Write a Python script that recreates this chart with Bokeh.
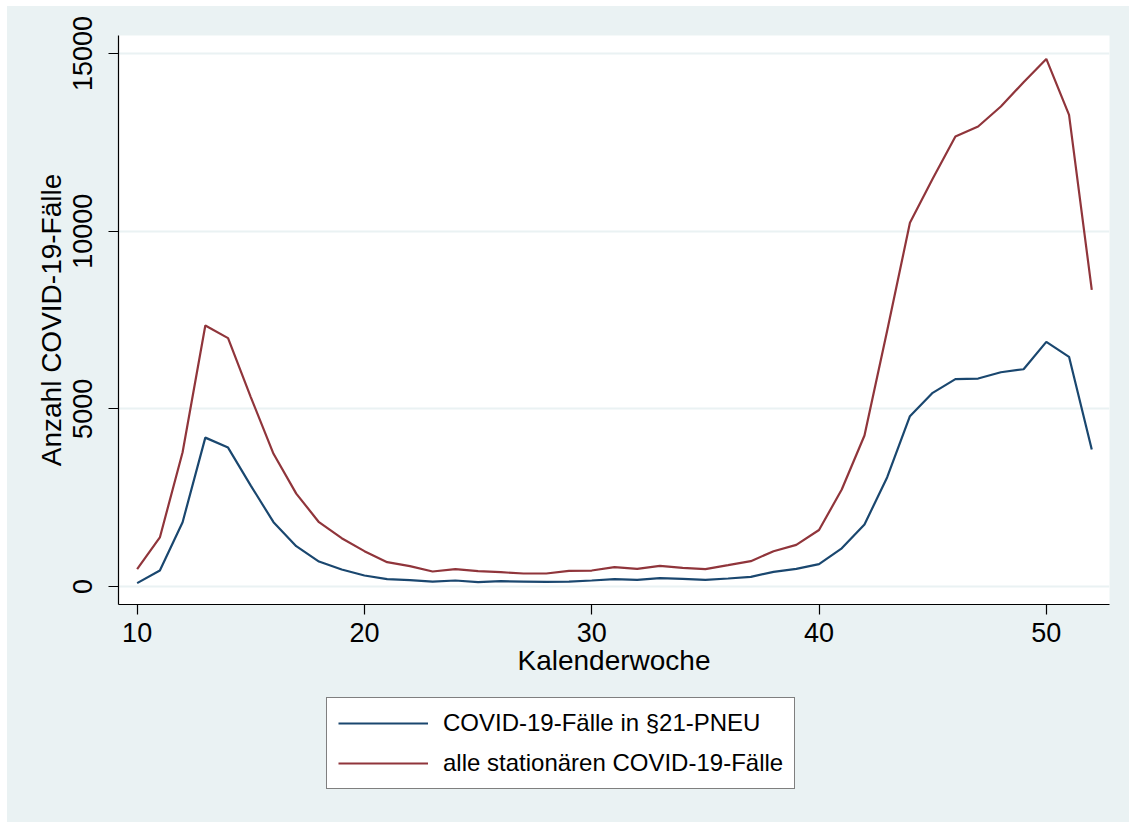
from bokeh.plotting import figure
from bokeh.models import Range1d, FixedTicker, Legend, LegendItem
from bokeh.layouts import column
from bokeh.embed import file_html
from bokeh.resources import INLINE

weeks = [10, 11, 12, 13, 14, 15, 16, 17, 18, 19, 20, 21, 22, 23, 24, 25, 26, 27, 28, 29, 30,
         31, 32, 33, 34, 35, 36, 37, 38, 39, 40, 41, 42, 43, 44, 45, 46, 47, 48, 49, 50, 51, 52]
pneu = [95, 450, 1810, 4190, 3910, 2840, 1810, 1135, 703, 478, 310, 206, 180, 140, 169, 122,
        150, 140, 131, 140, 169, 206, 188, 234, 216, 188, 225, 272, 413, 497, 628, 1075, 1745,
        3076, 4793, 5450, 5835, 5853, 6030, 6115, 6885, 6464, 3855]
alle = [490, 1380, 3780, 7345, 6990, 5330, 3735, 2615, 1810, 1360, 995, 685, 572, 422, 488, 431,
        403, 366, 366, 441, 450, 544, 497, 581, 525, 488, 600, 713, 994, 1172, 1590, 2730, 4250,
        7204, 10234, 11473, 12663, 12944, 13507, 14191, 14847, 13273, 8349]
x_ticks = [10, 20, 30, 40, 50]
y_ticks = [0, 5000, 10000, 15000]
labels = ["COVID-19-Fälle in §21-PNEU", "alle stationären COVID-19-Fälle"]
colors = ["#1A476F", "#90353B"]

FONT = "Liberation Sans"
BG = "#EAF2F3"

p = figure(width=1122, height=684, output_backend="svg", toolbar_location=None,
           x_range=Range1d(9.18, 52.78), y_range=Range1d(-506, 15506),
           min_border_left=111, min_border_right=20, min_border_top=29, min_border_bottom=86)
p.background_fill_color = "white"
p.border_fill_color = BG
p.outline_line_color = None

p.line(weeks, pneu, line_color=colors[0], line_width=2.2)
p.line(weeks, alle, line_color=colors[1], line_width=2.2)

p.xgrid.grid_line_color = None
p.ygrid.grid_line_color = BG
p.ygrid.grid_line_width = 2

for ax in (p.xaxis[0], p.yaxis[0]):
    ax.axis_line_color = "black"
    ax.axis_line_width = 1.2
    ax.major_tick_line_color = "black"
    ax.major_tick_line_width = 1.2
    ax.major_tick_out = 10
    ax.major_tick_in = 0
    ax.minor_tick_line_color = None
    ax.major_label_text_font = FONT
    ax.major_label_text_font_size = "27px"
    ax.major_label_text_color = "black"
    ax.axis_label_text_font = FONT
    ax.axis_label_text_font_size = "28px"
    ax.axis_label_text_font_style = "normal"
    ax.axis_label_text_color = "black"

p.xaxis.ticker = FixedTicker(ticks=x_ticks)
p.yaxis.ticker = FixedTicker(ticks=y_ticks)
p.xaxis.axis_label = "Kalenderwoche"
p.yaxis.axis_label = "Anzahl COVID-19-Fälle"
p.yaxis.major_label_orientation = "vertical"
p.xaxis.major_label_standoff = 8
p.xaxis.axis_label_standoff = 0
p.yaxis.major_label_standoff = 16
p.yaxis.axis_label_standoff = 4

# legend panel below the chart (its frame is aligned with the chart's frame)
lp = figure(width=1122, height=132, output_backend="svg", toolbar_location=None,
            x_axis_type=None, y_axis_type=None, x_range=Range1d(0, 1), y_range=Range1d(0, 1),
            min_border_left=0, min_border_right=0, min_border_top=0, min_border_bottom=0)
lp.background_fill_color = None
lp.border_fill_color = BG
lp.outline_line_color = None
lp.grid.grid_line_color = None
# legend keys: series data lie far outside this panel's ranges, so only the keys show
k1 = lp.line(weeks[:2], pneu[-2:], line_color=colors[0], line_width=2.2)
k2 = lp.line(weeks[:2], alle[-2:], line_color=colors[1], line_width=2.2)

legend = Legend(items=[LegendItem(label=labels[0], renderers=[k1]),
                       LegendItem(label=labels[1], renderers=[k2])],
                location=(208, 33))
legend.label_text_font = FONT
legend.label_text_font_size = "24px"
legend.label_text_color = "black"
legend.border_line_color = "black"
legend.border_line_width = 1.2
legend.background_fill_color = "white"
legend.background_fill_alpha = 1
legend.glyph_width = 90
legend.glyph_height = 28
legend.label_standoff = 15
legend.padding = 11
legend.spacing = 12
legend.margin = 0
lp.add_layout(legend, "center")

layout = column(p, lp, spacing=0)
layout.margin = (6, 0, 0, 7)
layout.background = BG

open("out.html", "w").write(file_html(layout, INLINE))
